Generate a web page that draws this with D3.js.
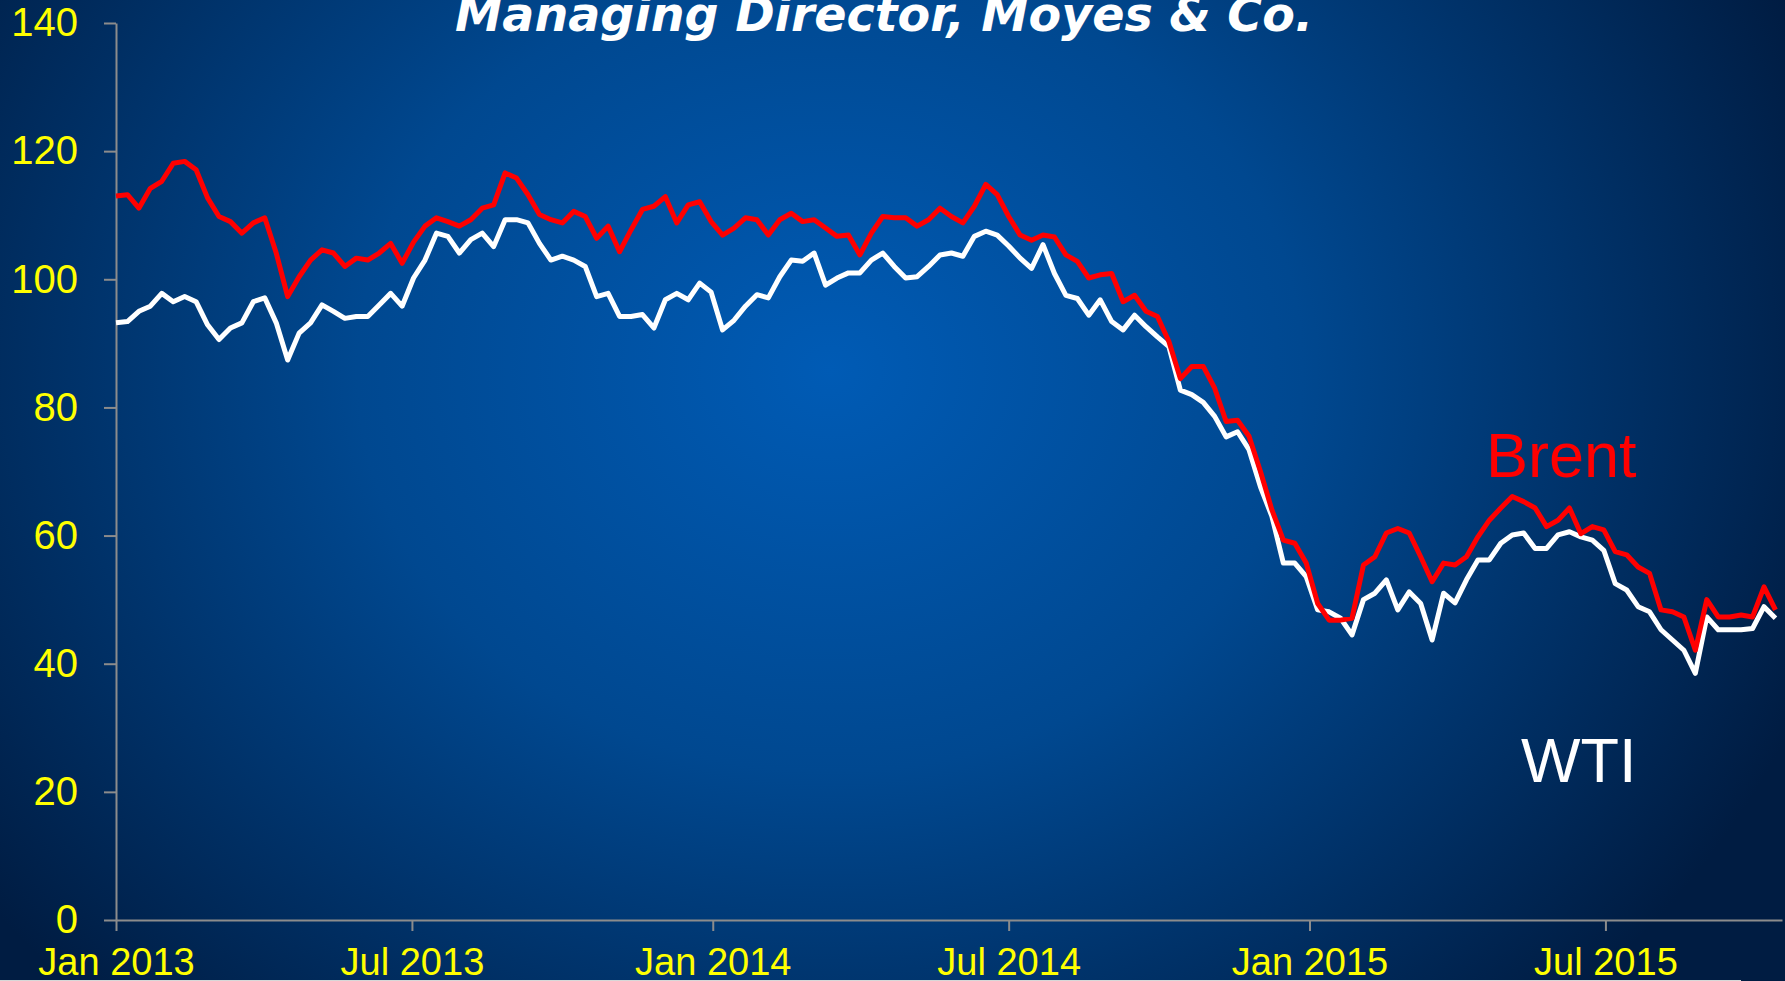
<!DOCTYPE html>
<html>
<head>
<meta charset="utf-8">
<script src="https://cdn.jsdelivr.net/npm/d3@7"></script>
<style>
  body { margin: 0; background: #00264f; }
  svg { display: block; }
</style>
</head>
<body>
<svg width="1785" height="981"></svg>
<script>
// weekly prices, first week starting 1 Jan 2013
var startDate = new Date(2013, 0, 1);

var brent = [
  113.0, 113.2, 111.1, 114.2, 115.3, 118.1, 118.4, 117.1, 112.7, 109.8,
  109.0, 107.2, 108.8, 109.6, 104.1, 97.3, 100.4, 103.0, 104.6, 104.1,
  102.0, 103.3, 103.0, 104.1, 105.6, 102.5, 105.8, 108.3, 109.6, 109.0,
  108.3, 109.3, 111.1, 111.6, 116.6, 115.8, 113.2, 110.1, 109.3, 108.8,
  110.6, 109.8, 106.4, 108.3, 104.3, 107.7, 110.9, 111.4, 112.9, 108.8,
  111.6, 112.1, 109.0, 106.9, 108.0, 109.6, 109.3, 106.9, 109.3, 110.3,
  109.0, 109.3, 108.0, 106.7, 106.9, 103.8, 107.2, 109.8, 109.6, 109.6,
  108.3, 109.3, 111.1, 109.8, 108.8, 111.4, 114.8, 113.2, 109.8, 106.9,
  106.1, 106.9, 106.6, 103.8, 102.8, 100.2, 100.7, 100.9, 96.5, 97.5,
  95.0, 94.2, 90.3, 84.5, 86.4, 86.4, 83.0, 77.8, 78.0, 75.5,
  70.0, 64.0, 59.3, 58.8, 55.7, 49.4, 46.8, 46.8, 47.1, 55.4,
  56.7, 60.4, 61.1, 60.4, 56.7, 52.8, 55.7, 55.4, 56.7, 59.8,
  62.4, 64.3, 66.1, 65.3, 64.3, 61.4, 62.4, 64.3, 60.3, 61.4,
  60.9, 57.5, 57.0, 55.1, 54.1, 48.4, 48.1, 47.3, 42.1, 50.0,
  47.3, 47.3, 47.6, 47.3, 52.0, 48.4
];

var wti = [
  93.2, 93.4, 95.0, 95.8, 97.8, 96.5, 97.3, 96.5, 92.9, 90.6,
  92.4, 93.2, 96.5, 97.1, 93.2, 87.4, 91.6, 93.2, 96.0, 95.0,
  93.9, 94.2, 94.2, 96.0, 97.8, 95.8, 100.2, 103.0, 107.2, 106.7,
  104.1, 106.2, 107.2, 105.1, 109.3, 109.3, 108.8, 105.6, 103.0, 103.6,
  103.0, 102.0, 97.3, 97.8, 94.2, 94.2, 94.5, 92.4, 96.8, 97.8,
  96.8, 99.4, 98.0, 92.1, 93.6, 95.8, 97.6, 97.1, 100.4, 103.0,
  102.8, 104.1, 99.1, 100.2, 101.0, 101.0, 103.0, 104.1, 102.0, 100.2,
  100.4, 102.0, 103.8, 104.1, 103.6, 106.7, 107.5, 106.9, 105.2, 103.3,
  101.7, 105.4, 100.9, 97.5, 97.0, 94.4, 96.8, 93.4, 92.1, 94.4,
  92.6, 91.0, 89.5, 82.7, 82.0, 80.8, 78.6, 75.4, 76.2, 73.4,
  67.6, 63.0, 55.7, 55.7, 53.6, 48.4, 48.1, 47.1, 44.5, 50.0,
  51.0, 53.1, 48.4, 51.2, 49.4, 43.7, 51.0, 49.5, 53.1, 56.2,
  56.2, 58.8, 60.1, 60.4, 58.0, 58.0, 60.1, 60.6, 59.8, 59.3,
  57.7, 52.5, 51.5, 48.9, 48.1, 45.3, 43.7, 42.1, 38.5, 47.3,
  45.3, 45.3, 45.3, 45.5, 48.9, 47.1
];

var yTicks = [0, 20, 40, 60, 80, 100, 120, 140];
var xTicks = ["2013-01-01", "2013-07-01", "2014-01-01", "2014-07-01", "2015-01-01", "2015-07-01"];
var xEnd = "2015-10-17";

var parse = d3.timeParse("%Y-%m-%d");
var dates = brent.map(function(d, i) { return d3.timeDay.offset(startDate, 7 * i); });

var svg = d3.select("svg"),
    width = +svg.attr("width"),
    height = +svg.attr("height");

// background
var defs = svg.append("defs");
var grad = defs.append("radialGradient")
    .attr("id", "bg")
    .attr("gradientUnits", "userSpaceOnUse")
    .attr("cx", 830).attr("cy", 370).attr("r", 1050)
    .attr("gradientTransform", "translate(830,370) scale(1,0.85) translate(-830,-370)");
grad.append("stop").attr("offset", "0").attr("stop-color", "#005bb5");
grad.append("stop").attr("offset", "0.45").attr("stop-color", "#004890");
grad.append("stop").attr("offset", "1").attr("stop-color", "#001c42");

svg.append("rect")
   .attr("width", width)
   .attr("height", height)
   .attr("fill", "url(#bg)");

svg.append("line")
   .attr("x1", 0).attr("x2", 1741)
   .attr("y1", 980.5).attr("y2", 980.5)
   .attr("stroke", "#d8d8d8")
   .attr("stroke-width", 1);

var x = d3.scaleTime()
          .domain([startDate, parse(xEnd)])
          .range([116, 1782]);

var y = d3.scaleLinear()
          .domain([0, 140])
          .range([920, 23]);

// axes
var yAxis = svg.append("g")
    .attr("transform", "translate(116,0)")
    .call(d3.axisLeft(y).tickValues(yTicks).tickSize(12).tickSizeOuter(0).tickPadding(26));

var xAxis = svg.append("g")
    .attr("transform", "translate(0,920)")
    .call(d3.axisBottom(x)
            .tickValues(xTicks.map(parse))
            .tickFormat(d3.timeFormat("%b %Y"))
            .tickSize(11).tickSizeOuter(0));

svg.selectAll(".domain, .tick line")
   .attr("stroke", "#8c8c8c")
   .attr("stroke-width", 2);

yAxis.selectAll("text")
     .attr("fill", "#ffff00")
     .style("font-family", "'Liberation Sans', Arial, sans-serif")
     .style("font-size", "40px");

xAxis.selectAll("text")
     .attr("fill", "#ffff00")
     .attr("y", 55)
     .attr("dy", null)
     .style("font-family", "'Liberation Sans', Arial, sans-serif")
     .style("font-size", "38px");

// lines
var line = d3.line()
             .x(function(d, i) { return x(dates[i]); })
             .y(function(d) { return y(d); });

svg.append("path")
   .datum(wti)
   .attr("d", line)
   .attr("fill", "none")
   .attr("stroke", "#ffffff")
   .attr("stroke-width", 5)
   .attr("stroke-linejoin", "round");

svg.append("path")
   .datum(brent)
   .attr("d", line)
   .attr("fill", "none")
   .attr("stroke", "#ff0000")
   .attr("stroke-width", 5)
   .attr("stroke-linejoin", "round");

// labels
svg.append("text")
   .attr("x", 1486).attr("y", 477)
   .attr("fill", "#ff0000")
   .style("font-family", "'Liberation Sans', Arial, sans-serif")
   .style("font-size", "63px")
   .text("Brent");

svg.append("text")
   .attr("x", 1521).attr("y", 782)
   .attr("fill", "#ffffff")
   .style("font-family", "'Liberation Sans', Arial, sans-serif")
   .style("font-size", "63px")
   .text("WTI");

// title, cut off at the top as in the slide
svg.append("text")
   .attr("x", 455).attr("y", 31)
   .attr("textLength", 858)
   .attr("lengthAdjust", "spacingAndGlyphs")
   .attr("fill", "#ffffff")
   .style("font-family", "'DejaVu Sans', sans-serif")
   .style("font-weight", "bold")
   .style("font-style", "italic")
   .style("font-size", "48px")
   .text("Managing Director, Moyes & Co.");
</script>
</body>
</html>
